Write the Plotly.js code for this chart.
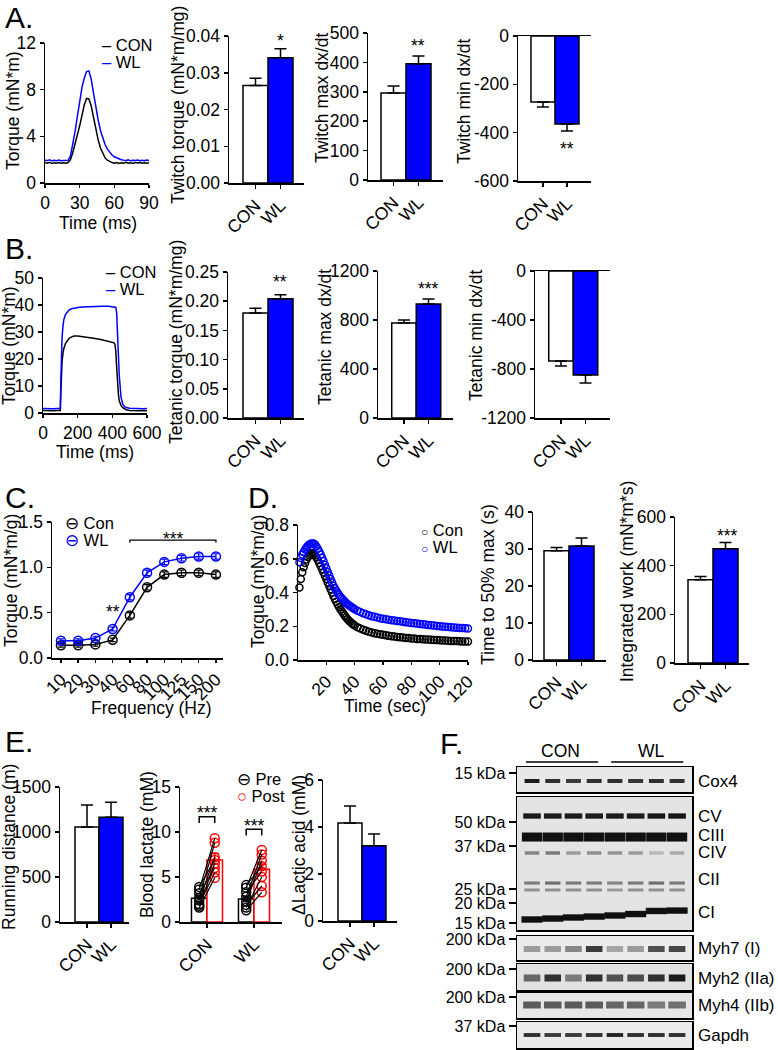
<!DOCTYPE html>
<html><head><meta charset="utf-8">
<script src="https://cdn.plot.ly/plotly-3.0.1.min.js"></script>
<style>html,body{margin:0;padding:0;background:#fff;}#plot{width:778px;height:1050px;}</style>
</head><body><div id="plot"></div>
<script>
// ================= DATA =================
const groups = ['CON', 'WL'];

// A. Twitch
const twitchTime = [0,2,4,6,8,10,12,14,16,18,20,22,24,26,28,30,32,34,36,38,40,42,44,46,48,50,52,54,56,58,60,62,64,66,68,70,72,74,76,78,80,82,84,86,88,90];
const twitchCON = [1.75,1.70,1.78,1.68,1.74,1.70,1.76,1.69,1.73,1.70,1.75,2.0,2.6,3.3,4.1,4.9,5.8,6.7,7.25,7.2,6.6,5.6,4.6,3.7,3.0,2.5,2.15,1.95,1.82,1.75,1.70,1.76,1.68,1.74,1.70,1.77,1.69,1.73,1.68,1.75,1.71,1.76,1.69,1.74,1.70,1.73];
const twitchWL  = [1.95,1.92,1.98,1.90,1.94,1.91,1.97,1.90,1.93,1.92,1.95,2.3,3.3,4.4,5.7,7.0,8.2,9.0,9.55,9.6,8.9,7.7,6.5,5.4,4.5,3.8,3.3,2.9,2.6,2.4,2.25,2.15,2.05,2.0,1.96,1.93,1.98,1.90,1.95,1.92,1.97,1.91,1.94,1.90,1.96,1.93];
const twitchTorque = [0.0265, 0.0341], twitchTorqueErr = [0.0020, 0.0024];
const twitchMax = [296, 395], twitchMaxErr = [24, 27];
const twitchMin = [-273, -364], twitchMinErr = [21, 29];

// B. Tetanic
const tetTime = [0,20,40,60,80,95,100,103,106,110,115,120,130,140,150,165,180,200,230,260,300,340,380,400,410,415,420,425,430,435,440,450,460,470,480,500,520,540,560,580,600];
const tetCON = [0.9,0.8,0.9,0.8,0.9,0.8,0.9,8,15,19,22,23.8,25.8,26.9,27.6,28.2,28.5,28.5,28.3,28.0,27.6,27.1,26.6,26.3,26.0,25.5,23,17,11,7,4.5,2.8,2.0,1.5,1.2,0.9,0.8,0.9,0.8,0.9,0.8];
const tetWL  = [1.7,1.6,1.7,1.6,1.7,1.6,1.7,12,22,28,32,34.5,36.5,37.5,38.1,38.6,38.9,39.1,39.3,39.4,39.5,39.5,39.5,39.4,39.4,39.3,39.1,37,30,21,14,6,3.3,2.4,2.0,1.8,1.7,1.6,1.7,1.6,1.7];
const tetTorque = [0.180, 0.204], tetTorqueErr = [0.008, 0.007];
const tetMax = [775, 930], tetMaxErr = [25, 41];
const tetMin = [-735, -849], tetMinErr = [41, 65];

// C. Force-frequency
const freqLabels = ['10','20','30','40','60','80','100','125','150','200'];
const ffCON = [0.14,0.14,0.15,0.20,0.47,0.78,0.92,0.94,0.94,0.92];
const ffCONErr = [0.02,0.02,0.02,0.02,0.03,0.03,0.03,0.03,0.03,0.03];
const ffWL  = [0.19,0.19,0.22,0.32,0.67,0.94,1.06,1.10,1.12,1.12];
const ffWLErr = [0.02,0.02,0.02,0.02,0.03,0.03,0.03,0.03,0.03,0.03];

// D. Fatigue
const fatTime = [1,2,3,4,5,6,7,8,9,10,11,12,13,14,15,16,17,18,19,20,21,22,23,24,25,26,27,28,29,30,31,32,33,34,35,36,37,38,39,40,42,44,46,48,50,52,54,56,58,60,62,64,66,68,70,72,74,76,78,80,82,84,86,88,90,92,94,96,98,100,102,104,106,108,110,112,114,116,118,120];
const fatCON = [0.43,0.48,0.52,0.55,0.575,0.595,0.61,0.62,0.628,0.632,0.628,0.62,0.607,0.592,0.575,0.557,0.538,0.519,0.5,0.48,0.46,0.44,0.42,0.40,0.38,0.362,0.345,0.329,0.314,0.30,0.287,0.275,0.263,0.252,0.242,0.233,0.225,0.217,0.21,0.204,0.194,0.186,0.179,0.173,0.168,0.163,0.159,0.155,0.152,0.149,0.146,0.143,0.141,0.139,0.137,0.135,0.133,0.131,0.13,0.128,0.127,0.125,0.124,0.123,0.122,0.121,0.12,0.119,0.118,0.117,0.116,0.115,0.114,0.113,0.112,0.112,0.111,0.11,0.109,0.109];
const fatWL  = [0.58,0.605,0.625,0.64,0.655,0.667,0.677,0.684,0.689,0.691,0.69,0.684,0.673,0.659,0.643,0.625,0.606,0.586,0.565,0.544,0.522,0.501,0.48,0.46,0.44,0.425,0.41,0.397,0.385,0.374,0.364,0.355,0.346,0.338,0.331,0.324,0.318,0.312,0.306,0.301,0.292,0.284,0.277,0.271,0.265,0.26,0.256,0.252,0.248,0.245,0.242,0.239,0.236,0.234,0.231,0.229,0.226,0.224,0.222,0.22,0.218,0.216,0.214,0.212,0.21,0.208,0.206,0.204,0.202,0.2,0.198,0.197,0.195,0.194,0.192,0.191,0.19,0.189,0.188,0.187];
const time50 = [29.5, 30.8], time50Err = [0.9, 2.2];
const intWork = [342, 470], intWorkErr = [13, 25];

// E. Running
const runDist = [1055, 1165], runDistErr = [245, 165];
const lactPreMean = [2.65, 2.55], lactPreErr = [0.3, 0.35];
const lactPostMean = [6.9, 5.85], lactPostErr = [0.7, 0.6];
const lactPreCON  = [3.9, 3.6, 3.2, 2.7, 2.4, 2.0, 1.8, 1.6];
const lactPostCON = [6.9, 9.3, 6.0, 8.8, 7.2, 5.5, 6.5, 4.9];
const lactPreWL   = [4.1, 3.8, 3.3, 2.8, 2.3, 1.9, 1.6, 1.3];
const lactPostWL  = [6.2, 8.0, 5.6, 7.5, 6.8, 4.0, 5.0, 3.3];
const dLactate = [4.17, 3.2], dLactateErr = [0.72, 0.5];

// F. Western blot band intensities (0 = none, 1 = darkest), lanes 1-4 CON, 5-8 WL
const lanes = [1,2,3,4,5,6,7,8];
const bandCox4 = [0.95,0.85,0.8,0.85,0.85,0.82,0.85,0.85];
const bandCV   = [0.95,0.95,0.95,0.95,0.95,0.95,0.97,0.97];
const bandCIII = [1,1,1,1,1,1,1,1];
const bandCIV  = [0.45,0.5,0.35,0.4,0.38,0.35,0.22,0.28];
const bandCIIa = [0.5,0.55,0.5,0.5,0.45,0.5,0.55,0.5];
const bandCIIb = [0.4,0.4,0.4,0.4,0.35,0.4,0.4,0.4];
const bandCI   = [1,1,1,1,1,1,1,1];
const bandMyh7 = [0.35,0.35,0.45,0.8,0.3,0.35,0.7,0.75];
const bandMyh2 = [0.6,0.85,0.5,0.85,0.7,0.72,0.85,0.95];
const bandMyh4 = [0.65,0.65,0.65,0.65,0.6,0.6,0.5,0.55];
const bandGapdh= [0.85,0.8,0.8,0.85,0.9,0.85,0.85,0.85];

// ================= BUILD =================
const W = 778, H = 1050;
const FONT = '"Liberation Sans", Arial, sans-serif';
const FS = 17.5;
const BLUE = '#0000ff', RED = '#ff0000';
const fx = p => p / W, fy = p => 1 - p / H;
const layout = {
  width: W, height: H, margin: {l:0, r:0, t:0, b:0},
  paper_bgcolor: 'white', plot_bgcolor: 'rgba(0,0,0,0)',
  showlegend: false, barmode: 'overlay', hovermode: false,
  font: {family: FONT, size: FS, color: 'black'},
  annotations: [], shapes: []
};
const traces = [];
let nAx = 0;
function axisBase(extra) {
  return Object.assign({showline:true, linecolor:'black', linewidth:1.5, ticks:'outside', ticklen:4,
    tickwidth:1.5, tickcolor:'black', showgrid:false, zeroline:false, automargin:false, fixedrange:true,
    tickfont:{family:FONT, size:FS, color:'black'}}, extra);
}
function subplot(box, xopt, yopt) {
  nAx++; const s = nAx === 1 ? '' : String(nAx);
  layout['xaxis' + s] = axisBase(Object.assign({domain:[fx(box[0]), fx(box[1])], anchor:'y' + s}, xopt));
  layout['yaxis' + s] = axisBase(Object.assign({domain:[fy(box[3]), fy(box[2])], anchor:'x' + s}, yopt));
  return {x:'x' + s, y:'y' + s};
}
function tk(vals, dec) { return {tickmode:'array', tickvals:vals, ticktext:vals.map(v => v.toFixed(dec))}; }
function ann(text, x, y, opts) {
  layout.annotations.push(Object.assign({text:text, x:fx(x), y:fy(y), xref:'paper', yref:'paper',
    showarrow:false, xanchor:'center', yanchor:'middle', font:{family:FONT, size:FS, color:'black'}}, opts || {}));
}
// axis titles placed as text at the reference positions
function yTitle(text, x, y) { ann(text, x, y, {textangle:-90}); }
function xTitle(text, x, y) { ann(text, x, y); }

function barPanel(box, vals, errs, yr, yt, dec, xr, neg) {
  const ax = subplot(box,
    {range:xr, tickmode:'array', tickvals:[0,1], ticktext:groups, tickangle:-45, mirror:!!neg},
    Object.assign({range:yr}, tk(yt, dec)));
  traces.push({type:'bar', x:[0,1], y:vals, width:[1,1], xaxis:ax.x, yaxis:ax.y,
    marker:{color:['white', BLUE], line:{color:'black', width:1.5}},
    error_y:{type:'data', symmetric:false, array:neg ? [0,0] : errs, arrayminus:neg ? errs : [0,0],
      color:'black', thickness:1.5, width:6}});
  return ax;
}
function lineTrace(ax, x, y, color) {
  traces.push({type:'scatter', mode:'lines', x:x, y:y, xaxis:ax.x, yaxis:ax.y, line:{color:color, width:1.5}});
}

// ---- A ----
const a1 = subplot([45,149,43,183], Object.assign({range:[0,90], ticklen:3}, tk([0,30,60,90],0)),
  Object.assign({range:[0,12]}, tk([0,4,8,12],0)));
lineTrace(a1, twitchTime, twitchCON, 'black');
lineTrace(a1, twitchTime, twitchWL, BLUE);
xTitle('Time (ms)', 98, 223); yTitle('Torque (mN*m)', 13, 111);
barPanel([229,304,36,183], twitchTorque, twitchTorqueErr, [0,0.04], [0,0.01,0.02,0.03,0.04], 2, [-1.06,1.94]);
yTitle('Twitch torque (mN*m/mg)', 178, 105);
barPanel([368,443,33,180], twitchMax, twitchMaxErr, [0,500], [0,100,200,300,400,500], 0, [-1.02,1.98]);
yTitle('Twitch max dx/dt', 322, 98);
barPanel([518,591,36,181], twitchMin, twitchMinErr, [-600,0], [-600,-400,-200,0], 0, [-1.04,2.0], true);
yTitle('Twitch min dx/dt', 464, 101);

// ---- B ----
const b1 = subplot([43,147,278,413], Object.assign({range:[0,600], ticklen:3}, tk([0,200,400,600],0)),
  Object.assign({range:[0,50]}, tk([0,10,20,30,40,50],0)));
lineTrace(b1, tetTime, tetCON, 'black');
lineTrace(b1, tetTime, tetWL, BLUE);
xTitle('Time (ms)', 95, 452); yTitle('Torque (mN*m)', 9, 346);
barPanel([228,304,272,418], tetTorque, tetTorqueErr, [0,0.25], [0,0.05,0.1,0.15,0.2,0.25], 2, [-1.1,1.94]);
yTitle('Tetanic torque (mN*m/mg)', 176, 342);
barPanel([378,453,271,418], tetMax, tetMaxErr, [0,1200], [0,400,800,1200], 0, [-1.06,2.0]);
yTitle('Tetanic max dx/dt', 325, 337);
barPanel([535,610,271,418], tetMin, tetMinErr, [-1200,0], [-1200,-800,-400,0], 0, [-1.06,2.0], true);
yTitle('Tetanic min dx/dt', 476, 336);

// ---- C ----
const fIdx = freqLabels.map((_, i) => i);
const c1 = subplot([52,223,522,658],
  {range:[-0.52,9.41], tickmode:'array', tickvals:fIdx, ticktext:freqLabels, tickangle:-45, ticklen:3},
  Object.assign({range:[0,1.5]}, tk([0,0.5,1,1.5],1)));
[[ffCON, ffCONErr, 'black'], [ffWL, ffWLErr, BLUE]].forEach(([v, e, c]) => {
  traces.push({type:'scatter', mode:'lines+markers', x:fIdx, y:v, xaxis:c1.x, yaxis:c1.y,
    line:{color:c, width:1.5}, marker:{symbol:'circle-open', size:9, color:c, line:{width:1.5, color:c}},
    error_y:{type:'data', array:e, color:c, thickness:1.2, width:3}});
});
xTitle('Frequency (Hz)', 151, 708); yTitle('Torque (mN*m/g)', 11, 581);

// ---- D ----
const d1 = subplot([298,468,525,660],
  Object.assign({range:[0,120], tickangle:-45, ticklen:3}, tk([20,40,60,80,100,120],0)),
  Object.assign({range:[0,0.8]}, tk([0,0.2,0.4,0.6,0.8],1)));
[[fatCON, 'black'], [fatWL, BLUE]].forEach(([v, c]) => {
  traces.push({type:'scatter', mode:'markers', x:fatTime, y:v, xaxis:d1.x, yaxis:d1.y,
    marker:{symbol:'circle-open', size:7, color:c, line:{width:1.5, color:c}}, cliponaxis:false});
});
xTitle('Time (sec)', 385, 706); yTitle('Torque (mN*m/g)', 258, 582);
barPanel([533,606,512,660], time50, time50Err, [0,40], [0,10,20,30,40], 0, [-0.94,1.98]);
yTitle('Time to 50% max (s)', 488, 585);
barPanel([675,749,517,663], intWork, intWorkErr, [0,600], [0,200,400,600], 0, [-1.02,1.94]);
yTitle('Integrated work (mN*m*s)', 627, 582);

// ---- E ----
barPanel([60,129,787,922], runDist, runDistErr, [0,1500], [0,500,1000,1500], 0, [-1.125,1.75]);
yTitle('Running distance (m)', 9, 847);
const e2 = subplot([180,282,787,922],
  {range:[0.426,2.596], tickmode:'array', tickvals:[1,2], ticktext:groups, tickangle:-45},
  Object.assign({range:[0,15]}, tk([0,5,10,15],0)));
yTitle('Blood lactate (mM)', 147, 845);
const preX = [1,2].map(v => v - 0.165), postX = [1,2].map(v => v + 0.165);
traces.push({type:'bar', x:preX, y:lactPreMean, width:0.33, xaxis:e2.x, yaxis:e2.y,
  marker:{color:'white', line:{color:'black', width:1.5}},
  error_y:{type:'data', symmetric:false, array:lactPreErr, arrayminus:[0,0], color:'black', thickness:1.5, width:4}});
traces.push({type:'bar', x:postX, y:lactPostMean, width:0.33, xaxis:e2.x, yaxis:e2.y,
  marker:{color:'white', line:{color:RED, width:1.5}},
  error_y:{type:'data', symmetric:false, array:lactPostErr, arrayminus:[0,0], color:RED, thickness:1.5, width:4}});
const pairX = [], pairY = [], preMX = [], preMY = [], postMX = [], postMY = [];
[[lactPreCON, lactPostCON, 0], [lactPreWL, lactPostWL, 1]].forEach(([pre, post, g]) => {
  pre.forEach((v, i) => {
    pairX.push(preX[g], postX[g], null); pairY.push(v, post[i], null);
    preMX.push(preX[g]); preMY.push(v); postMX.push(postX[g]); postMY.push(post[i]);
  });
});
traces.push({type:'scatter', mode:'markers', x:postMX, y:postMY, xaxis:e2.x, yaxis:e2.y,
  marker:{symbol:'circle-open', size:9, color:RED, line:{width:1.5, color:RED}}});
traces.push({type:'scatter', mode:'lines', x:pairX, y:pairY, xaxis:e2.x, yaxis:e2.y, line:{color:'black', width:1.2}});
traces.push({type:'scatter', mode:'markers', x:preMX, y:preMY, xaxis:e2.x, yaxis:e2.y,
  marker:{symbol:'circle-open', size:9, color:'black', line:{width:1.5, color:'black'}}});
barPanel([323,397,780,921], dLactate, dLactateErr, [0,6], [0,2,4,6], 0, [-1.125,1.96]);
yTitle('\u0394Lactic acid (mM)', 299, 845);

// ---- F (western blots) ----
function grey(v) { const g = Math.round(230 - v * 214); return 'rgb(' + g + ',' + g + ',' + g + ')'; }
const blots = [
  {box:[517,692,767,792], ticks:[[0.76,'15 kDa']], bg:'#e8e8e8',
   bands:[{row:0.44, th:0.16, w:0.72, v:bandCox4}], labels:[[0.44,'Cox4']]},
  {box:[517,692,797,930], ticks:[[0.812,'50 kDa'],[0.632,'37 kDa'],[0.308,'25 kDa'],[0.203,'20 kDa'],[0.053,'15 kDa']], bg:'#e4e4e4',
   bands:[{row:0.857, th:0.04, w:0.85, v:bandCV}, {row:0.699, th:0.068, w:0.98, v:bandCIII},
          {row:0.579, th:0.026, w:0.7, v:bandCIV}, {row:0.353, th:0.024, w:0.75, v:bandCIIa},
          {row:0.301, th:0.022, w:0.75, v:bandCIIb},
          {rows:[0.079,0.086,0.094,0.101,0.109,0.12,0.143,0.146], th:0.048, w:1.02, v:bandCI}],
   labels:[[0.857,'CV'],[0.707,'CIII'],[0.579,'CIV'],[0.376,'CII'],[0.128,'CI']]},
  {box:[517,692,936,960], ticks:[[0.875,'200 kDa']], bg:'#ebebeb',
   bands:[{row:0.458, th:0.25, w:0.8, v:bandMyh7}], labels:[[0.46,'Myh7 (I)']]},
  {box:[517,692,964,990], ticks:[[0.808,'200 kDa']], bg:'#e2e2e2',
   bands:[{row:0.462, th:0.27, w:0.8, v:bandMyh2}], labels:[[0.46,'Myh2 (IIa)']]},
  {box:[517,692,993,1018], ticks:[[0.84,'200 kDa']], bg:'#e6e6e6',
   bands:[{row:0.52, th:0.28, w:0.85, v:bandMyh4}], labels:[[0.5,'Myh4 (IIb)']]},
  {box:[517,692,1022,1048], ticks:[[0.846,'37 kDa']], bg:'#eaeaea',
   bands:[{row:0.5, th:0.15, w:0.8, v:bandGapdh}], labels:[[0.5,'Gapdh']]}
];
let firstBlot = null;
blots.forEach(b => {
  const ax = subplot(b.box, {range:[0.275,8.72], showticklabels:false, ticks:'', mirror:true},
    {range:[0,1], mirror:true, tickmode:'array', tickvals:b.ticks.map(t => t[0]), ticktext:b.ticks.map(t => t[1]), ticklen:7,
     tickfont:{family:FONT, size:16, color:'black'}});
  if (!firstBlot) firstBlot = ax;
  layout.shapes.push({type:'rect', xref:ax.x + ' domain', yref:ax.y + ' domain', x0:0, x1:1, y0:0, y1:1,
    fillcolor:b.bg, line:{width:0}, layer:'below'});
  b.bands.forEach(bd => {
    const rows = bd.rows || lanes.map(() => bd.row);
    traces.push({type:'bar', x:lanes, y:lanes.map(() => bd.th), base:rows.map(r => r - bd.th / 2), width:bd.w,
      xaxis:ax.x, yaxis:ax.y, marker:{color:bd.v.map(grey), line:{width:0}}});
  });
  b.labels.forEach(l => layout.annotations.push({text:l[1], x:fx(696), y:l[0], xref:'paper', yref:ax.y,
    showarrow:false, xanchor:'left', yanchor:'middle', font:{family:FONT, size:17, color:'black'}}));
});
// group headers
ann('CON', 560, 751); ann('WL', 651, 751);
layout.shapes.push({type:'line', xref:firstBlot.x, yref:'paper', x0:0.71, x1:4.19, y0:fy(762), y1:fy(762), line:{color:'black', width:1.5}});
layout.shapes.push({type:'line', xref:firstBlot.x, yref:'paper', x0:4.82, x1:8.3, y0:fy(762), y1:fy(762), line:{color:'black', width:1.5}});

// ---- panel letters ----
const LF = {family:FONT, size:30, color:'black'};
ann('A.', 3, 17, {xanchor:'left', font:LF});
ann('B.', 3, 249, {xanchor:'left', font:LF});
ann('C.', 3, 497, {xanchor:'left', font:LF});
ann('D.', 246, 497, {xanchor:'left', font:LF});
ann('E.', 3, 741, {xanchor:'left', font:LF});
ann('F.', 438, 743, {xanchor:'left', font:LF});

// ---- legends ----
const LG = {family:FONT, size:16.5, color:'black'};
ann('\u2013 CON', 100, 45, {xanchor:'left', font:LG});
ann('<span style="color:#0000ff">\u2013</span> WL', 100, 62, {xanchor:'left', font:LG});
ann('\u2013 CON', 104, 272, {xanchor:'left', font:LG});
ann('<span style="color:#0000ff">\u2013</span> WL', 104, 289, {xanchor:'left', font:LG});
ann('\u2296 Con', 63, 523, {xanchor:'left', font:LG});
ann('<span style="color:#0000ff">\u2296</span> WL', 63, 540, {xanchor:'left', font:LG});
ann('<span style="font-size:12px">\u25CB</span> Con', 419, 530, {xanchor:'left', font:LG});
ann('<span style="font-size:12px;color:#0000ff">\u25CB</span> WL', 419, 547, {xanchor:'left', font:LG});
ann('\u2296 Pre', 235, 779, {xanchor:'left', font:LG});
ann('<span style="color:#ff0000">\u25CB</span> Post', 235, 796, {xanchor:'left', font:LG});

// ---- significance ----
ann('*', 280, 41); ann('**', 418, 46); ann('**', 567, 149);
ann('**', 280, 282); ann('***', 428, 289);
ann('**', 113, 612); ann('***', 173, 539);
ann('***', 727, 536);
ann('***', 207, 813); ann('***', 254, 826);
layout.shapes.push({type:'path', xref:c1.x, yref:c1.y, path:'M 4 1.27 L 4 1.3 L 9 1.3 L 9 1.27', line:{color:'black', width:1.2}});
layout.shapes.push({type:'path', xref:e2.x, yref:e2.y, path:'M ' + preX[0] + ' 11.0 L ' + preX[0] + ' 11.7 L ' + postX[0] + ' 11.7 L ' + postX[0] + ' 11.0', line:{color:'black', width:1.5}});
layout.shapes.push({type:'path', xref:e2.x, yref:e2.y, path:'M ' + preX[1] + ' 9.6 L ' + preX[1] + ' 10.3 L ' + postX[1] + ' 10.3 L ' + postX[1] + ' 9.6', line:{color:'black', width:1.5}});

Plotly.newPlot('plot', traces, layout, {staticPlot:true, displayModeBar:false});
</script></body></html>
